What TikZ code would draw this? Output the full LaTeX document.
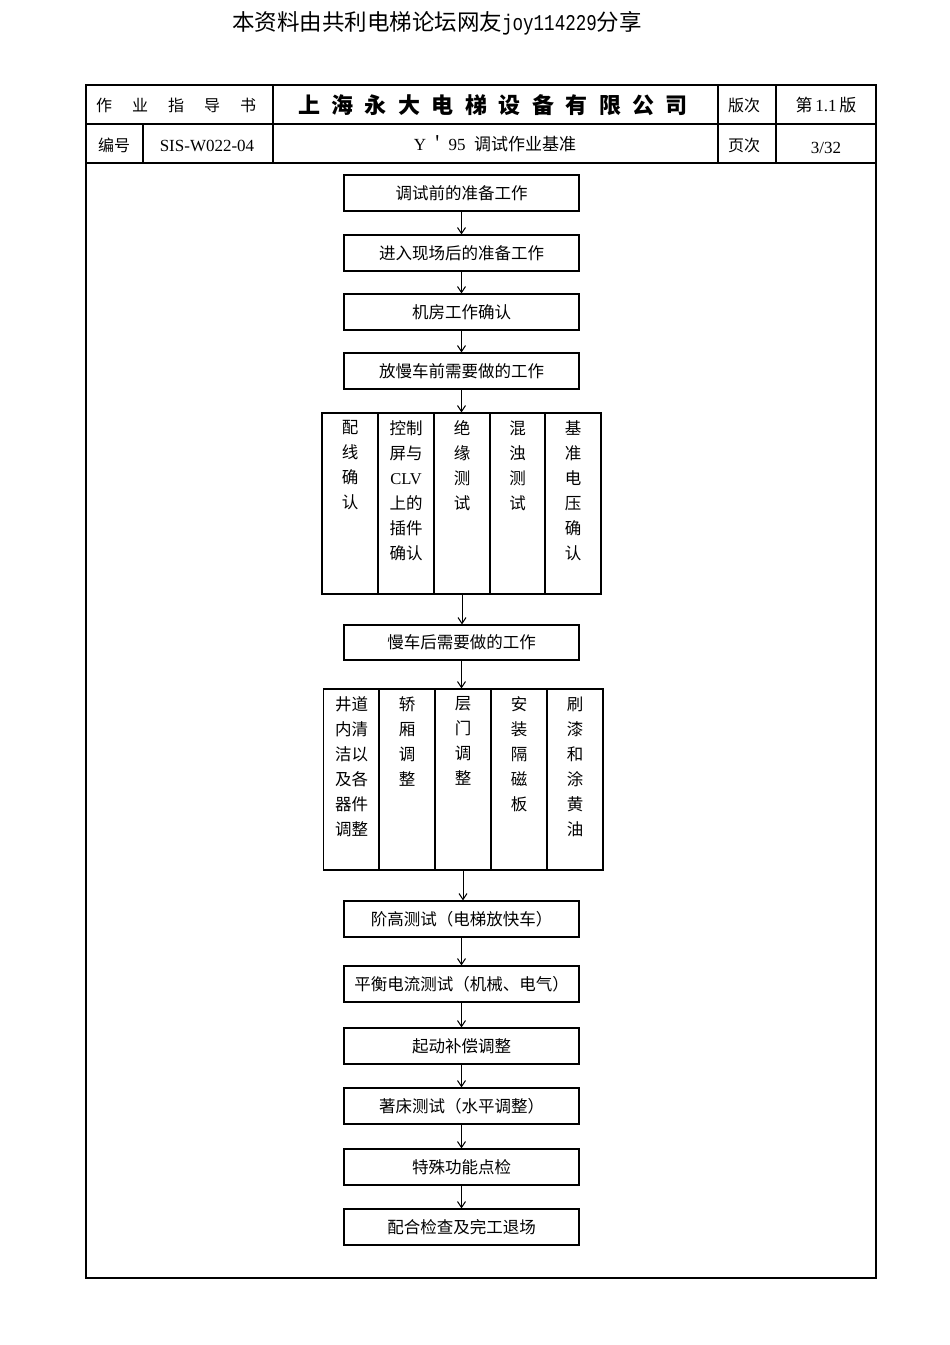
\documentclass[tikz,border=0pt]{standalone}
\usepackage{fontspec}
\setmainfont{Liberation Serif}
\newfontfamily\cjk{Noto Sans CJK SC}
\newfontfamily\cjkspread[LetterSpace=125]{Noto Sans CJK SC}
\newfontfamily\cjkbrand[LetterSpace=52]{Noto Sans CJK SC}
\newfontfamily\narrowmono[FakeStretch=0.78]{Liberation Mono}
\usetikzlibrary{arrows.meta,positioning}

\begin{document}
\begin{tikzpicture}[x=1pt,y=-1pt, >={Straight Barb[length=6pt,width=8pt]},
  flowbox/.style={draw,line width=1.2pt,minimum width=235pt,minimum height=36pt,inner sep=0pt,font=\cjk\fontsize{16.5}{20}\selectfont},
  colbox/.style={draw,line width=1.2pt,minimum width=56pt,minimum height=181pt,inner sep=0pt},
  coltext/.style={anchor=north,align=center,inner sep=0pt,yshift=-8pt,font=\cjk\fontsize{16.5}{25}\selectfont},
  cell/.style={inner sep=0pt,font=\fontsize{17}{20}\selectfont}]
\useasboundingbox (0,0) rectangle (950,1345);

% title line and frame
\node[font=\cjk\fontsize{22.5}{26}\selectfont] (share) at (437,23) {本资料由共利电梯论坛网友{\narrowmono joy114229}分享};
\draw[line width=2.4pt] (86,85) rectangle (876,1278);
\draw[line width=2pt] (86,124) -- (876,124) (86,163) -- (876,163)
  (273,85) -- (273,163) (718,85) -- (718,163) (776,85) -- (776,163) (143,124) -- (143,163);

% header cells
\node[cell,font=\cjkspread\fontsize{16}{20}\selectfont] (kind) at (176,105) {作业指导书};
\node[cell,font=\cjkbrand\bfseries\fontsize{22}{24}\selectfont] (firm) at (493,105) {上海永大电梯设备有限公司};
\node[cell,font=\cjk\fontsize{16}{20}\selectfont] (verlbl) at (744,105) {版次};
\node[cell] (ver) at (826,105) {{\cjk 第}\,1.1\,{\cjk 版}};
\node[cell,font=\cjk\fontsize{16}{20}\selectfont] (numlbl) at (114,145) {编号};
\node[cell] (num) at (207,146) {SIS-W022-04};
\node[cell] (doc) at (495,144) {Y\,{\cjk ＇}\,95\enspace{\cjk 调试作业基准}};
\node[cell,font=\cjk\fontsize{16}{20}\selectfont] (pagelbl) at (744,145) {页次};
\node[cell] (page) at (826,148) {3/32};

% main flow
\node[flowbox] (prep) at (461.5,193) {调试前的准备工作};
\node[flowbox] (site) at (461.5,253) {进入现场后的准备工作};
\node[flowbox] (room) at (461.5,312) {机房工作确认};
\node[flowbox] (slowpre) at (461.5,371) {放慢车前需要做的工作};

% checks before slow run
\node[colbox] (wire) at (350,503.5) {};
\node[colbox] (clv) at (406,503.5) {};
\node[colbox] (insul) at (462,503.5) {};
\node[colbox] (mix) at (517.5,503.5) {};
\node[colbox] (volt) at (573,503.5) {};
\node[coltext] (wiretxt) at (wire.north) {配\\线\\确\\认};
\node[coltext] (clvtxt) at (clv.north) {控制\\屏与\\{\rmfamily CLV}\\上的\\插件\\确认};
\node[coltext] (insultxt) at (insul.north) {绝\\缘\\测\\试};
\node[coltext] (mixtxt) at (mix.north) {混\\浊\\测\\试};
\node[coltext] (volttxt) at (volt.north) {基\\准\\电\\压\\确\\认};

\node[flowbox,minimum height=35pt] (slowpost) at (461.5,642.5) {慢车后需要做的工作};

% work after slow run
\node[colbox] (shaft) at (351.5,779.5) {};
\node[colbox] (car) at (407,779.5) {};
\node[colbox] (door) at (463,779.5) {};
\node[colbox] (magnet) at (519,779.5) {};
\node[colbox] (paint) at (575,779.5) {};
\node[coltext] (shafttxt) at (shaft.north) {井道\\内清\\洁以\\及各\\器件\\调整};
\node[coltext] (cartxt) at (car.north) {轿\\厢\\调\\整};
\node[coltext] (doortxt) at (door.north) {层\\门\\调\\整};
\node[coltext] (magnettxt) at (magnet.north) {安\\装\\隔\\磁\\板};
\node[coltext] (painttxt) at (paint.north) {刷\\漆\\和\\涂\\黄\\油};

\node[flowbox] (level) at (461.5,919) {阶高测试（电梯放快车）};
\node[flowbox] (balance) at (461.5,984) {平衡电流测试（机械、电气）};
\node[flowbox] (startcomp) at (461.5,1046) {起动补偿调整};
\node[flowbox] (floor) at (461.5,1106) {著床测试（水平调整）};
\node[flowbox] (special) at (461.5,1167) {特殊功能点检};
\node[flowbox] (finish) at (461.5,1227) {配合检查及完工退场};

\begin{scope}[line width=1pt]
\draw[->] (prep) -- (site);
\draw[->] (site) -- (room);
\draw[->] (room) -- (slowpre);
\draw[->] (slowpre.south) -- (slowpre.south |- insul.north);
\draw[->] (insul.south) -- (insul.south |- slowpost.north);
\draw[->] (slowpost.south) -- (slowpost.south |- door.north);
\draw[->] (door.south) -- (door.south |- level.north);
\draw[->] (level) -- (balance);
\draw[->] (balance) -- (startcomp);
\draw[->] (startcomp) -- (floor);
\draw[->] (floor) -- (special);
\draw[->] (special) -- (finish);
\end{scope}
\end{tikzpicture}
\end{document}
